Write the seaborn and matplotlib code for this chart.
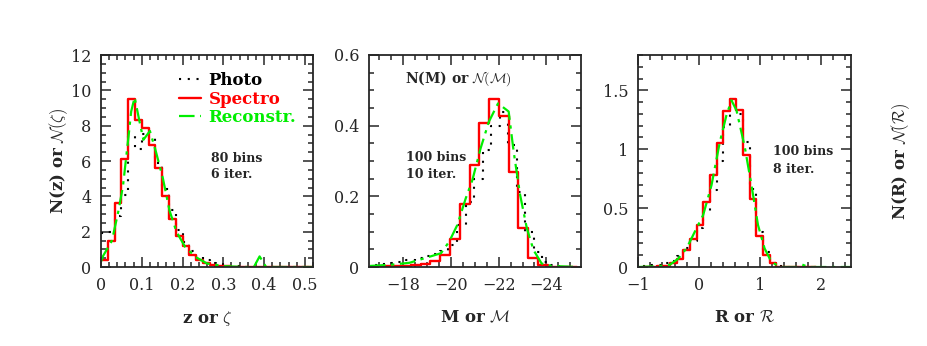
import numpy as np
import pandas as pd
import seaborn as sns
import matplotlib
matplotlib.use("Agg")
import matplotlib.pyplot as plt
from matplotlib.lines import Line2D
from matplotlib.ticker import MultipleLocator, FuncFormatter

# ---- panel 1 : redshift ----
z_edges = [0.0, 0.0167, 0.0333, 0.05, 0.0667, 0.0833, 0.1, 0.1167, 0.1333, 0.15, 0.1667,
           0.1833, 0.2, 0.2167, 0.2333, 0.25, 0.2667, 0.2833, 0.3, 0.3167, 0.3333,
           0.35, 0.3667, 0.3833, 0.4, 0.4167, 0.4333, 0.45, 0.4667, 0.4833, 0.5, 0.5167]
z_spectro = [0.4, 1.5, 3.6, 6.1, 9.5, 8.3, 7.85, 6.9, 5.6, 4.0, 2.7, 1.75, 1.2, 0.68, 0.4, 0.2,
             0.12, 0.06, 0.03, 0.02, 0.01, 0, 0, 0, 0, 0, 0, 0, 0, 0, 0]
z_photo = [1.9, 2.0, 2.9, 4.1, 7.4, 6.7, 7.5, 7.3, 5.9, 4.4, 3.2, 2.1, 1.4, 0.9, 0.55, 0.4,
           0.25, 0.15, 0.1, 0.05, 0.03, 0.02, 0.02, 0.01, 0, 0, 0, 0, 0, 0, 0]
z_rec_x = [0.0, 0.004, 0.027, 0.043, 0.054, 0.068, 0.074, 0.0825, 0.093, 0.104, 0.12, 0.135,
           0.152, 0.16, 0.168, 0.185, 0.206, 0.231, 0.26, 0.3, 0.35, 0.375, 0.389, 0.405, 0.52]
z_rec_y = [0.3, 0.58, 1.5, 3.2, 4.6, 7.5, 8.8, 9.6, 8.4, 7.2, 7.7, 6.5,
           5.0, 4.1, 3.2, 2.0, 1.15, 0.58, 0.2, 0.05, 0.0, 0.0, 0.6, 0.0, 0.0]

# ---- panel 2 : absolute magnitude ----
m_edges_spec = [-16.68, -17.09, -17.5, -17.91, -18.32, -18.73, -19.14, -19.55, -19.96, -20.37,
                -20.78, -21.19, -21.6, -22.01, -22.42, -22.83, -23.24, -23.65, -24.06, -24.47,
                -24.88, -25.29]
m_spectro = [0.0, 0.002, 0.003, 0.004, 0.006, 0.009, 0.017, 0.035, 0.08, 0.177, 0.289, 0.407,
             0.476, 0.426, 0.27, 0.111, 0.026, 0.005, 0.0, 0.0, 0.0]
m_edges_phot = [-16.69, -17.05, -17.41, -17.77, -18.12, -18.48, -18.83, -19.19, -19.55, -19.9,
                -20.26, -20.62, -20.97, -21.33, -21.69, -22.05, -22.4, -22.76, -23.12, -23.47,
                -23.83, -24.19, -24.54, -24.9]
m_photo = [0.005, 0.008, 0.012, 0.015, 0.02, 0.025, 0.03, 0.038, 0.045, 0.062, 0.119, 0.185,
           0.25, 0.33, 0.40, 0.44, 0.345, 0.213, 0.10, 0.043, 0.015, 0.005, 0.0]
m_rec_x = [-16.61, -17.44, -18.27, -19.1, -19.585, -19.93, -20.27, -20.62, -20.9, -21.245,
           -21.59, -21.975, -22.42, -22.63, -22.9, -23.18, -23.46, -23.8, -24.2, -25.3]
m_rec_y = [0.003, 0.006, 0.012, 0.029, 0.039, 0.072, 0.119, 0.194, 0.246, 0.336,
           0.411, 0.463, 0.44, 0.326, 0.204, 0.11, 0.048, 0.01, 0.003, 0.0]

# ---- panel 3 : colour ----
r_edges = [-0.913, -0.804, -0.694, -0.585, -0.475, -0.366, -0.257, -0.148, -0.038, 0.071,
           0.180, 0.290, 0.399, 0.508, 0.617, 0.727, 0.836, 0.945, 1.055, 1.164, 1.273,
           1.383, 1.492, 1.601, 1.711, 1.820, 1.930]
r_spectro = [0.0, 0.0, 0.005, 0.01, 0.03, 0.065, 0.144, 0.24, 0.356, 0.553, 0.785, 1.056,
             1.322, 1.424, 1.33, 0.955, 0.574, 0.265, 0.10, 0.03, 0.0, 0.0, 0.0, 0.0, 0.0, 0.0]
r_photo = [0.01, 0.015, 0.02, 0.03, 0.05, 0.09, 0.16, 0.22, 0.33, 0.47, 0.65, 0.9,
           1.19, 1.36, 1.3, 1.06, 0.66, 0.3, 0.13, 0.03, 0.01, 0.0, 0.0, 0.0, 0.0, 0.0]
r_rec_x = [-1.0, -0.75, -0.6, -0.475, -0.34, -0.2, -0.066, 0.07, 0.208, 0.344, 0.454, 0.536,
           0.618, 0.754, 0.864, 0.972, 1.08, 1.19, 1.33, 1.6, 1.7, 1.8, 2.5]
r_rec_y = [0.0, 0.005, 0.01, 0.02, 0.07, 0.16, 0.3, 0.44, 0.695, 1.06, 1.29, 1.415,
           1.33, 1.02, 0.695, 0.356, 0.158, 0.045, 0.0, 0.0, 0.02, 0.0, 0.0]

RED = "#ff0000"
GREEN = "#00ee00"
PHOTO_LS = (0, (1, 3.2))
REC_LS = (0, (7, 2.5, 1.5, 2.5))

sns.set_style("ticks")
plt.rcParams["font.family"] = ["DejaVu Serif"]
plt.rcParams["mathtext.fontset"] = "cm"
plt.rcParams["xtick.direction"] = "in"
plt.rcParams["ytick.direction"] = "in"

fig = plt.figure(figsize=(9.28, 3.46), dpi=100)
W, H = 928, 346
boxes = [(101, 212), (369, 212), (638, 213)]
axes = [fig.add_axes([l / W, (H - 267) / H, w / W, 212 / H]) for l, w in boxes]


def steps(ax, edges, vals, **kw):
    e = np.array(edges)
    mid = (e[:-1] + e[1:]) / 2
    df = pd.DataFrame({"x": mid, "w": vals})
    sns.histplot(data=df, x="x", weights="w", bins=sorted(edges), element="step",
                 fill=False, ax=ax, **kw)


def draw(ax, edges_s, spec, edges_p, phot, rx, ry):
    steps(ax, edges_p, phot, color="black", linewidth=1.5, linestyle=PHOTO_LS)
    steps(ax, edges_s, spec, color=RED, linewidth=1.7)
    sns.lineplot(x=rx, y=ry, ax=ax, color=GREEN, linewidth=1.6, linestyle=REC_LS,
                 sort=False, estimator=None)


def style(ax, xmaj, xmin, ymaj, ymin):
    ax.xaxis.set_major_locator(MultipleLocator(xmaj))
    ax.xaxis.set_minor_locator(MultipleLocator(xmin))
    ax.yaxis.set_major_locator(MultipleLocator(ymaj))
    ax.yaxis.set_minor_locator(MultipleLocator(ymin))
    ax.tick_params(which="both", top=True, right=True, direction="in", width=1.1,
                   labelsize=11.5, pad=7)
    ax.tick_params(which="major", length=7)
    ax.tick_params(which="minor", length=3.5)
    fmt = FuncFormatter(lambda v, p: ("%g" % round(v, 6)).replace("-", "\u2212"))
    ax.xaxis.set_major_formatter(fmt)
    ax.yaxis.set_major_formatter(fmt)
    for s in ax.spines.values():
        s.set_linewidth(1.3)
    ax.set_ylabel("")
    ax.set_xlabel("")


ax1, ax2, ax3 = axes

draw(ax1, z_edges, z_spectro, z_edges, z_photo, z_rec_x, z_rec_y)
ax1.set_xlim(0, 0.52)
ax1.set_ylim(0, 12)
style(ax1, 0.1, 0.02, 2, 0.5)
ax1.set_xlabel(r"z or $\zeta$", fontsize=12, fontweight="bold")
ax1.xaxis.set_label_coords(0.5, -0.2)
ax1.set_ylabel(r"N(z) or $\mathcal{N}(\zeta)$", fontsize=12, fontweight="bold")
ax1.yaxis.set_label_coords(-0.146, 0.5)
handles = [Line2D([], [], color="black", linestyle=PHOTO_LS, linewidth=1.5),
           Line2D([], [], color=RED, linewidth=1.7),
           Line2D([], [], color=GREEN, linestyle=REC_LS, linewidth=1.6)]
leg = ax1.legend(handles, ["Photo", "Spectro", "Reconstr."], loc="upper left",
                 bbox_to_anchor=(0.37, 0.92), frameon=False, handlelength=1.3,
                 handletextpad=0.45, labelspacing=0.1, borderpad=0, borderaxespad=0,
                 prop={"weight": "bold", "size": 12})
for t, c in zip(leg.get_texts(), ["black", RED, GREEN]):
    t.set_color(c)
ax1.text(0.52, 0.514, "80 bins", transform=ax1.transAxes, fontsize=9,
         fontweight="bold", va="center")
ax1.text(0.52, 0.434, "6 iter.", transform=ax1.transAxes, fontsize=9,
         fontweight="bold", va="center")

draw(ax2, m_edges_spec, m_spectro, m_edges_phot, m_photo, m_rec_x, m_rec_y)
ax2.set_xlim(-16.57, -25.45)
ax2.set_ylim(0, 0.6)
style(ax2, 2, 0.5, 0.2, 0.05)
ax2.set_xlabel(r"M or $\mathcal{M}$", fontsize=12, fontweight="bold")
ax2.xaxis.set_label_coords(0.5, -0.2)
ax2.text(0.17, 0.887, r"N(M) or $\mathcal{N}(\mathcal{M})$", transform=ax2.transAxes,
         fontsize=10, fontweight="bold", va="center")
ax2.text(0.175, 0.517, "100 bins", transform=ax2.transAxes, fontsize=9,
         fontweight="bold", va="center")
ax2.text(0.175, 0.434, "10 iter.", transform=ax2.transAxes, fontsize=9,
         fontweight="bold", va="center")

draw(ax3, r_edges, r_spectro, r_edges, r_photo, r_rec_x, r_rec_y)
ax3.set_xlim(-1, 2.5)
ax3.set_ylim(0, 1.8)
style(ax3, 1, 0.2, 0.5, 0.1)
ax3.set_xlabel(r"R or $\mathcal{R}$", fontsize=12, fontweight="bold")
ax3.xaxis.set_label_coords(0.5, -0.2)
ax3.yaxis.set_label_position("right")
ax3.set_ylabel(r"N(R) or $\mathcal{N}(\mathcal{R})$", fontsize=12, fontweight="bold",
               rotation=90)
ax3.yaxis.set_label_coords(1.178, 0.5)
ax3.text(0.632, 0.544, "100 bins", transform=ax3.transAxes, fontsize=9,
         fontweight="bold", va="center")
ax3.text(0.632, 0.461, "8 iter.", transform=ax3.transAxes, fontsize=9,
         fontweight="bold", va="center")

fig.savefig("out.png", dpi=100)
